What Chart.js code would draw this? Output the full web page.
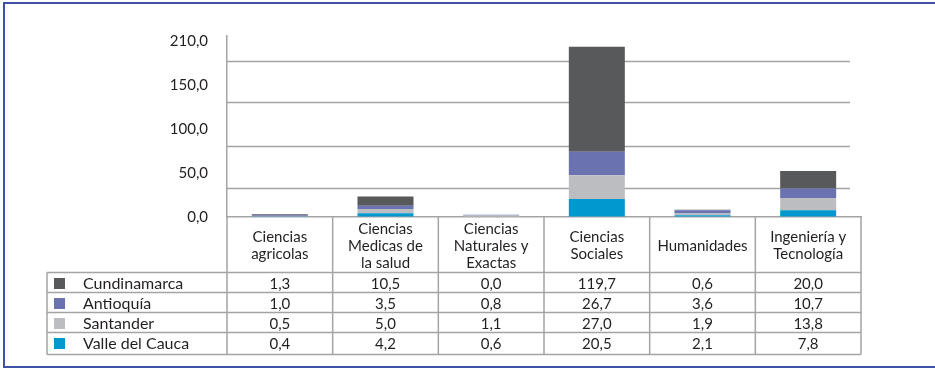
<!DOCTYPE html>
<html>
<head>
<meta charset="utf-8">
<script src="https://cdn.jsdelivr.net/npm/chart.js@4.4.0/dist/chart.umd.min.js"></script>
<style>
  html, body { margin: 0; padding: 0; background: #fff; }
  #wrap {
    position: relative;
    width: 935px;
    height: 368px;
  }
  #frame {
    position: absolute;
    left: 3px; top: 2px; right: 0; bottom: 0;
    border-left: 2px solid #3f51a2;
    border-top: 2px solid #3f51a2;
    border-bottom: 2px solid #3f51a2;
    pointer-events: none;
  }
  #chart { position: absolute; left: 0; top: 0; }
</style>
</head>
<body>
<div id="wrap">
  <canvas id="chart" width="935" height="368"></canvas>
  <div id="frame"></div>
</div>
<script>
// areas de conocimiento (columnas de la tabla)
var areas = [
    ['Ciencias', 'agricolas'],
    ['Ciencias', 'Medicas de', 'la salud'],
    ['Ciencias', 'Naturales y', 'Exactas'],
    ['Ciencias', 'Sociales'],
    ['Humanidades'],
    ['Ingeniería y', 'Tecnología']
];

// departamentos, en el orden de la tabla
var deptos = ['Cundinamarca', 'Antioquía', 'Santander', 'Valle del Cauca'];
var cundinamarca = [1.3, 10.5, 0.0, 119.7, 0.6, 20.0];
var antioquia    = [1.0, 3.5, 0.8, 26.7, 3.6, 10.7];
var santander    = [0.5, 5.0, 1.1, 27.0, 1.9, 13.8];
var valle        = [0.4, 4.2, 0.6, 20.5, 2.1, 7.8];
var colores = ['#58595b', '#6a72b0', '#bcbdc0', '#0098cf'];

// eje y: marcas y sus rotulos
var tickValues = [0, 50, 100, 150, 200];
var tickLabels = ['0,0', '50,0', '100,0', '150,0', '210,0'];
// lineas horizontales de la cuadricula
var gridValues = [33, 81, 131, 177];

var series = [cundinamarca, antioquia, santander, valle];
var FONT = 'Lato, "Open Sans", sans-serif';
var LINEA = '#a4a4a4';
var TEXTO = '#231f20';

function fmt(v) {
    return v.toFixed(1).replace('.', ',');
}

// Valle abajo, Cundinamarca arriba
var datasets = [];
for (var i = series.length - 1; i >= 0; i--) {
    datasets.push({
        label: deptos[i],
        data: series[i],
        backgroundColor: colores[i],
        borderWidth: 0,
        barPercentage: 1,
        categoryPercentage: 0.53
    });
}

var tablaPlugin = {
    id: 'tabla',
    beforeDatasetsDraw: function(chart) {
        var ctx = chart.ctx;
        var area = chart.chartArea;
        var y = chart.scales.y;
        ctx.save();
        ctx.strokeStyle = LINEA;
        ctx.lineWidth = 1.5;
        gridValues.forEach(function(v) {
            var py = Math.round(y.getPixelForValue(v)) + 0.5;
            ctx.beginPath();
            ctx.moveTo(area.left, py);
            ctx.lineTo(area.right - 11, py);
            ctx.stroke();
        });
        ctx.restore();
    },
    afterDraw: function(chart) {
        var ctx = chart.ctx;
        var area = chart.chartArea;
        var x = chart.scales.x;
        var ancho = (area.right - area.left) / areas.length;
        var izq = 47;
        var filaTop = 272.5;
        var filaAlto = 20;
        var fondo = filaTop + filaAlto * deptos.length + 2;

        ctx.save();
        ctx.strokeStyle = LINEA;
        ctx.lineWidth = 1.5;

        // lineas verticales
        ctx.beginPath();
        for (var c = 0; c <= areas.length; c++) {
            var px = area.left + c * ancho;
            ctx.moveTo(px, area.bottom);
            ctx.lineTo(px, fondo);
        }
        ctx.moveTo(izq, filaTop);
        ctx.lineTo(izq, fondo);
        ctx.stroke();

        // lineas horizontales
        ctx.beginPath();
        for (var r = 0; r <= deptos.length; r++) {
            var py = r < deptos.length ? filaTop + r * filaAlto : fondo;
            ctx.moveTo(izq, py);
            ctx.lineTo(area.right, py);
        }
        ctx.stroke();

        // filas
        ctx.fillStyle = TEXTO;
        ctx.textBaseline = 'middle';
        deptos.forEach(function(nombre, r) {
            var cy = filaTop + r * filaAlto + filaAlto / 2 + 1.5;
            ctx.fillStyle = colores[r];
            ctx.fillRect(54, cy - 6, 11, 11);
            ctx.fillStyle = TEXTO;
            ctx.font = '16px ' + FONT;
            ctx.textAlign = 'left';
            ctx.fillText(nombre, 83, cy);
            ctx.font = '15px ' + FONT;
            ctx.textAlign = 'center';
            series[r].forEach(function(v, c) {
                ctx.fillText(fmt(v), x.getPixelForValue(c), cy);
            });
        });
        ctx.restore();
    }
};

new Chart(document.getElementById('chart'), {
    type: 'bar',
    data: {
        labels: areas,
        datasets: datasets
    },
    options: {
        responsive: false,
        animation: false,
        devicePixelRatio: 1,
        layout: {
            padding: { left: 0, top: 36, right: 74, bottom: 96 }
        },
        plugins: {
            legend: { display: false },
            tooltip: { enabled: false }
        },
        scales: {
            x: {
                stacked: true,
                afterFit: function(scale) { scale.height = 55; },
                grid: { display: true, drawOnChartArea: false, drawTicks: false },
                border: { display: true, color: LINEA, width: 1.5 },
                ticks: {
                    color: TEXTO,
                    font: { family: FONT, size: 15, lineHeight: 1.13 },
                    padding: 12,
                    maxRotation: 0,
                    autoSkip: false,
                    crossAlign: 'center'
                }
            },
            y: {
                stacked: true,
                min: 0,
                max: 206,
                afterFit: function(scale) { scale.width = 227; },
                afterBuildTicks: function(scale) {
                    scale.ticks = tickValues.map(function(v) { return { value: v }; });
                },
                grid: { display: true, drawOnChartArea: false, drawTicks: false },
                border: { display: true, color: LINEA, width: 1.5 },
                ticks: {
                    color: TEXTO,
                    font: { family: FONT, size: 15 },
                    padding: 19,
                    callback: function(value, index) { return tickLabels[index]; }
                }
            }
        }
    },
    plugins: [tablaPlugin]
});
</script>
</body>
</html>
